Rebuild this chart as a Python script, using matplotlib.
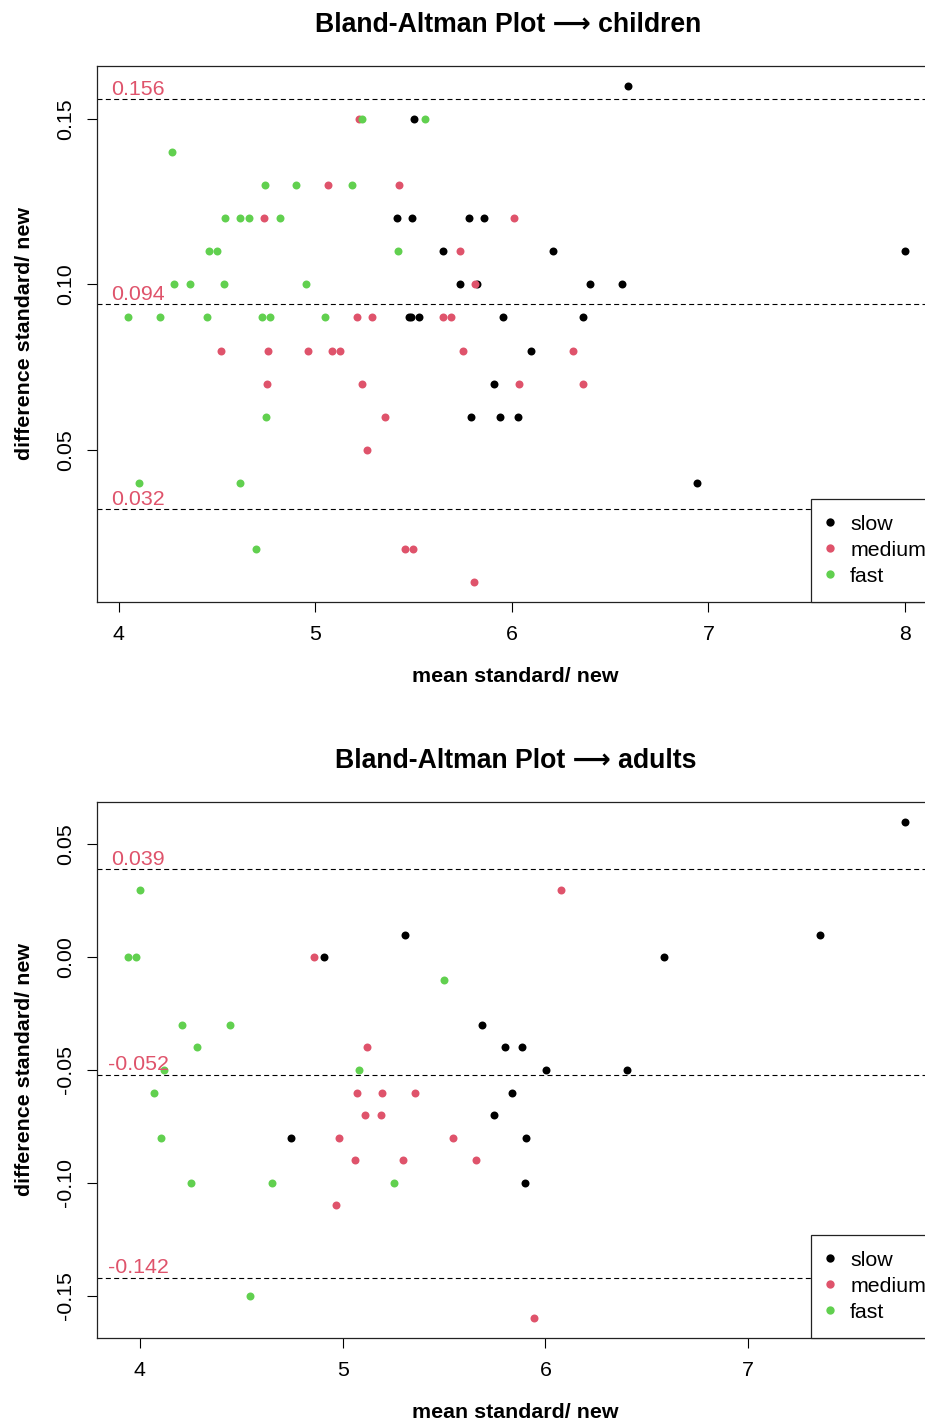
import matplotlib
matplotlib.use("Agg")
import matplotlib.pyplot as plt
from matplotlib.lines import Line2D
from matplotlib.transforms import blended_transform_factory

plt.rcParams['font.family'] = ['Liberation Sans', 'DejaVu Sans']

# colores de la paleta de R
COLORES = {"slow": "#000000", "medium": "#DF536B", "fast": "#61D04F"}
GRUPOS = ["slow", "medium", "fast"]

# --- children ---
ninos_slow_x = [6.591, 5.504, 5.415, 5.494, 5.78, 5.86, 5.648, 6.21, 8.0,
                5.735, 5.822, 6.40, 6.56, 5.474, 5.486, 5.528, 5.957, 6.36,
                6.095, 5.907, 5.791, 5.941, 6.032, 6.94]
ninos_slow_y = [0.16, 0.15, 0.12, 0.12, 0.12, 0.12, 0.11, 0.11, 0.11,
                0.10, 0.10, 0.10, 0.10, 0.09, 0.09, 0.09, 0.09, 0.09,
                0.08, 0.07, 0.06, 0.06, 0.06, 0.04]
ninos_medium_x = [5.223, 5.065, 5.425, 4.739, 6.01, 5.735, 5.813,
                  5.21, 5.288, 5.649, 5.691,
                  4.522, 4.761, 4.962, 5.083, 5.125, 5.752, 6.312,
                  4.756, 5.237, 6.037, 6.36, 5.352, 5.265,
                  5.454, 5.496, 5.808]
ninos_medium_y = [0.15, 0.13, 0.13, 0.12, 0.12, 0.11, 0.10,
                  0.09, 0.09, 0.09, 0.09,
                  0.08, 0.08, 0.08, 0.08, 0.08, 0.08, 0.08,
                  0.07, 0.07, 0.07, 0.07, 0.06, 0.05,
                  0.02, 0.02, 0.01]
ninos_fast_x = [5.235, 5.557, 4.271, 4.746, 4.904, 5.186,
                4.539, 4.617, 4.66, 4.818, 4.46, 4.502, 5.42,
                4.283, 4.363, 4.534, 4.952,
                4.047, 4.209, 4.449, 4.726, 4.768, 5.048,
                4.751, 4.105, 4.614, 4.696]
ninos_fast_y = [0.15, 0.15, 0.14, 0.13, 0.13, 0.13,
                0.12, 0.12, 0.12, 0.12, 0.11, 0.11, 0.11,
                0.10, 0.10, 0.10, 0.10,
                0.09, 0.09, 0.09, 0.09, 0.09, 0.09,
                0.06, 0.04, 0.04, 0.02]
ninos_limites = [0.156, 0.094, 0.032]

# --- adults ---
adultos_slow_x = [7.773, 5.31, 7.353, 4.906, 6.583, 5.686, 5.803, 5.887,
                  6.002, 6.40, 5.836, 5.749, 4.746, 5.903, 5.897]
adultos_slow_y = [0.06, 0.01, 0.01, 0.00, 0.00, -0.03, -0.04, -0.04,
                  -0.05, -0.05, -0.06, -0.07, -0.08, -0.08, -0.10]
adultos_medium_x = [6.079, 4.86, 5.121, 5.072, 5.192, 5.355, 5.112, 5.187,
                    4.984, 5.542, 5.062, 5.299, 5.659, 4.967, 5.946]
adultos_medium_y = [0.03, 0.00, -0.04, -0.06, -0.06, -0.06, -0.07, -0.07,
                    -0.08, -0.08, -0.09, -0.09, -0.09, -0.11, -0.16]
adultos_fast_x = [4.0, 3.942, 3.982, 5.498, 4.21, 4.447, 4.281, 4.12,
                  5.079, 4.07, 4.105, 4.253, 4.652, 5.255, 4.545]
adultos_fast_y = [0.03, 0.00, 0.00, -0.01, -0.03, -0.03, -0.04, -0.05,
                  -0.05, -0.06, -0.08, -0.10, -0.10, -0.10, -0.15]
adultos_limites = [0.039, -0.052, -0.142]

ninos_xticks = [4, 5, 6, 7, 8]
ninos_yticks = [0.05, 0.10, 0.15]
adultos_xticks = [4, 5, 6, 7]
adultos_yticks = [-0.15, -0.10, -0.05, 0.00, 0.05]

W, H = 925, 1423
FS = 15.4


def rango_r(valores):
    # como R: 4% extra a cada lado
    lo, hi = min(valores), max(valores)
    d = (hi - lo) * 0.04
    return lo - d, hi + d


def panel(fig, top_px, titulo, xs, ys, limites, xticks, yticks, tcx):
    left, right, bottom = 97, 936, top_px + 536
    ax = fig.add_axes([left / W, 1 - bottom / H, (right - left) / W, 536 / H])
    for g, x, y in zip(GRUPOS, xs, ys):
        ax.scatter(x, y, s=33, color=COLORES[g], linewidths=0, zorder=3)
    todos_x = [v for x in xs for v in x]
    todos_y = [v for y in ys for v in y]
    ax.set_xlim(*rango_r(todos_x))
    ax.set_ylim(*rango_r(todos_y))

    trans = blended_transform_factory(ax.transAxes, ax.transData)
    for lim in limites:
        ax.axhline(lim, color="black", lw=0.8, ls=(0, (4.5, 3)), zorder=2)
        ax.annotate(f"{lim:.3f}", xy=(0.049, lim), xycoords=trans,
                    xytext=(0, 3), textcoords="offset points",
                    ha="center", va="baseline", color="#DF536B", fontsize=FS)

    ax.set_xticks(xticks)
    ax.set_xticklabels([str(t) for t in xticks])
    ax.set_yticks(yticks)
    ax.set_yticklabels([f"{t:.2f}" for t in yticks], rotation=90, va="center")
    ax.tick_params(length=7.2, width=0.8, labelsize=FS, colors="black")
    ax.tick_params(axis="x", pad=9)
    ax.tick_params(axis="y", pad=8.5)
    for sp in ax.spines.values():
        sp.set_linewidth(0.9)
        sp.set_color("#222222")

    # la leyenda queda cortada a la derecha, como en el original
    handles = [Line2D([], [], ls="none", marker="o", markersize=6,
                      markerfacecolor=COLORES[g], markeredgewidth=0) for g in GRUPOS]
    leg = ax.legend(handles, GRUPOS, loc="lower right",
                    bbox_to_anchor=(1 + 6 / 839, 0), borderaxespad=0,
                    fontsize=FS, frameon=True, fancybox=False, framealpha=1,
                    edgecolor="#222222", borderpad=0.75, handlelength=0.28,
                    handletextpad=0.79, labelspacing=0.33)
    leg.get_frame().set_linewidth(0.9)

    fig.text(tcx / W, 1 - (top_px - 34.3) / H, titulo, ha="center",
             va="baseline", fontsize=19.2, fontweight="bold")
    fig.text(515 / W, 1 - (bottom + 75) / H, "mean standard/ new",
             ha="center", va="center", fontsize=FS, fontweight="bold")
    fig.text(25 / W, 1 - (top_px + 268) / H, "difference standard/ new",
             ha="center", va="center", rotation=90, fontsize=FS,
             fontweight="bold")
    return ax


fig = plt.figure(figsize=(W / 100, H / 100), dpi=100)
panel(fig, 66, "Bland-Altman Plot \u27f6 children",
      [ninos_slow_x, ninos_medium_x, ninos_fast_x],
      [ninos_slow_y, ninos_medium_y, ninos_fast_y],
      ninos_limites, ninos_xticks, ninos_yticks, 508.5)
panel(fig, 802, "Bland-Altman Plot \u27f6 adults",
      [adultos_slow_x, adultos_medium_x, adultos_fast_x],
      [adultos_slow_y, adultos_medium_y, adultos_fast_y],
      adultos_limites, adultos_xticks, adultos_yticks, 516)
fig.savefig("out.png", dpi=100)
